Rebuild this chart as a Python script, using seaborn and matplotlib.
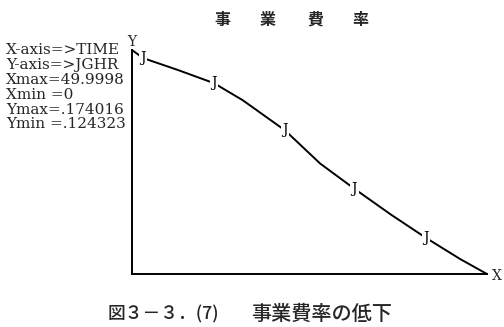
import matplotlib
matplotlib.use("Agg")
import matplotlib.pyplot as plt
import seaborn as sns
import pandas as pd

# ---- data ----
time = [0, 1.55, 6.5, 11.55, 15.6, 21.55, 26.5, 31.3, 36.5, 41.4, 46.2, 50]
jghr = [0.174016, 0.17223, 0.16956, 0.16666, 0.16287, 0.15619, 0.14883,
        0.14326, 0.13747, 0.13234, 0.12766, 0.124323]
j_time = [1.55, 11.55, 21.55, 31.3, 41.4]
j_val = [0.17223, 0.16666, 0.15619, 0.14326, 0.13234]
info_lines = ["X-axis=>TIME", "Y-axis=>JGHR", "Xmax=49.9998", "Xmin =0",
              "Ymax=.174016", "Ymin =.124323"]
title_chars = ["事", "業", "費", "率"]
caption_a = "図３－３．(7)"
caption_b = "事業費率の低下"
xmin, xmax = 0, 50
ymin, ymax = 0.124323, 0.174016

sns.set_theme(style="white")
plt.rcParams['font.family'] = ['DejaVu Serif', 'Noto Sans CJK JP']

W, H = 504, 327
fig = plt.figure(figsize=(W / 100, H / 100), dpi=100)
fig.patch.set_facecolor("white")
ax = fig.add_axes([132 / W, 1 - 274 / H, (487 - 132) / W, (274 - 50) / H])
ax.set_facecolor("white")

df = pd.DataFrame({"TIME": time, "JGHR": jghr})
sns.lineplot(data=df, x="TIME", y="JGHR", sort=False, color="black",
             linewidth=1.4, ax=ax, clip_on=False)
for t, v in zip(j_time, j_val):
    ax.text(t, v, "J", ha="center", va="center", fontsize=10,
            family="DejaVu Serif", color="black",
            bbox=dict(boxstyle="square,pad=0.12", fc="white", ec="none"),
            zorder=5)

ax.set_xlim(xmin, xmax)
ax.set_ylim(ymin, ymax)
ax.set_xticks([])
ax.set_yticks([])
ax.set_xlabel("")
ax.set_ylabel("")
for s in ["top", "right"]:
    ax.spines[s].set_visible(False)
for s in ["left", "bottom"]:
    ax.spines[s].set_color("black")
    ax.spines[s].set_linewidth(1.4)

def fx(px):
    return px / W

def fy(py):
    return 1 - py / H

fig.text(fx(132), fy(42), "Y", ha="center", va="center", fontsize=10,
         family="DejaVu Serif")
fig.text(fx(497), fy(276), "X", ha="center", va="center", fontsize=10,
         family="DejaVu Serif")

for i, line in enumerate(info_lines):
    fig.text(fx(6), fy(54.5 + 14.8 * i), line, ha="left", va="baseline",
             fontsize=11, family="DejaVu Serif")

for cx, ch in zip([222, 268, 315, 360], title_chars):
    fig.text(fx(cx), fy(20), ch, ha="center", va="center", fontsize=11.5,
             family=["Noto Sans CJK JP"], fontweight="bold")

fig.text(fx(108), fy(314), caption_a, ha="left", va="center", fontsize=12.8,
         family=["Noto Sans CJK JP", "DejaVu Sans"], fontweight="medium")
fig.text(fx(251), fy(314), caption_b, ha="left", va="center", fontsize=14.5,
         family=["Noto Sans CJK JP", "DejaVu Sans"], fontweight="medium")

fig.savefig("out.png", dpi=100, facecolor="white")
